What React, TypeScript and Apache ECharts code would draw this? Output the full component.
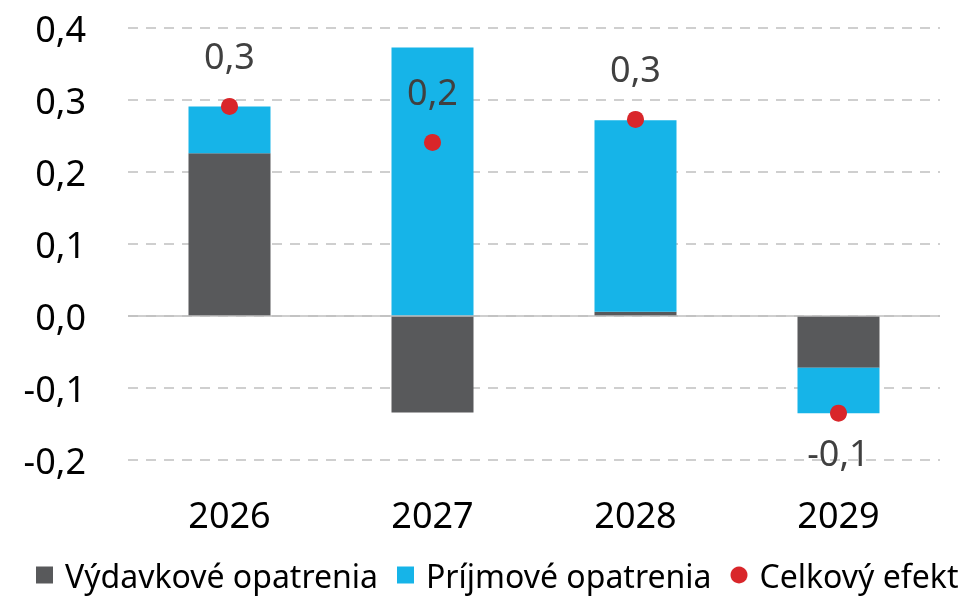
import React, { useEffect, useRef } from "react";
import * as echarts from "echarts";

const categories = ["2026", "2027", "2028", "2029"];
const vydavkove = [0.226, -0.134, 0.006, -0.072];
const prijmove = [0.065, 0.373, 0.266, -0.063];
const celkovy = [0.291, 0.241, 0.273, -0.135];
const labelPositions = ["top", "top", "top", "bottom"];
const yTicks = { min: -0.2, max: 0.4, interval: 0.1 };

const FONT = "Noto Sans";
const fmt = (v: number) => v.toFixed(1).replace(".", ",");

export default function App() {
  const ref = useRef<HTMLDivElement>(null);
  useEffect(() => {
    if (!ref.current) return;
    const chart = echarts.init(ref.current, undefined, { renderer: "svg" });
    chart.setOption({
      animation: false,
      textStyle: { fontFamily: FONT },
      grid: { left: 128, right: 29, top: 28, bottom: 136 },
      legend: {
        bottom: 5,
        left: 36,
        right: 0,
        padding: 0,
        itemWidth: 17,
        itemHeight: 17,
        itemGap: 19,
        textStyle: {
          fontFamily: FONT,
          fontSize: 32,
          color: "#000",
          padding: [0, 0, 0, 7],
        },
        data: [
          { name: "Výdavkové opatrenia", icon: "rect" },
          { name: "Príjmové opatrenia", icon: "rect" },
          { name: "Celkový efekt", icon: "circle" },
        ],
      },
      xAxis: {
        type: "category",
        data: categories,
        axisLine: { show: false, onZero: false },
        axisTick: { show: false },
        axisLabel: { fontSize: 36, color: "#000", margin: 36, fontFamily: FONT },
      },
      yAxis: {
        type: "value",
        min: yTicks.min,
        max: yTicks.max,
        interval: yTicks.interval,
        axisLine: { show: false },
        axisTick: { show: false },
        axisLabel: {
          fontSize: 36,
          color: "#000",
          margin: 42,
          fontFamily: FONT,
          formatter: (v: number) => fmt(v),
        },
        splitLine: {
          lineStyle: { color: "#c0c0c0", width: 1.5, type: [10, 8] },
        },
      },
      series: [
        {
          name: "Výdavkové opatrenia",
          type: "bar",
          stack: "s",
          barWidth: 82,
          itemStyle: { color: "#58595b" },
          data: vydavkove,
          markLine: {
            silent: true,
            symbol: "none",
            label: { show: false },
            lineStyle: { color: "#bfbfbf", width: 1.5, type: "solid" },
            data: [{ yAxis: 0 }],
          },
        },
        {
          name: "Príjmové opatrenia",
          type: "bar",
          stack: "s",
          barWidth: 82,
          itemStyle: { color: "#16b4e8" },
          data: prijmove,
        },
        {
          name: "Celkový efekt",
          type: "scatter",
          symbol: "circle",
          symbolSize: 17,
          itemStyle: { color: "#d9262a", opacity: 1 },
          z: 5,
          data: celkovy.map((v, i) => ({
            value: v,
            label: {
              show: true,
              position: labelPositions[i],
              distance: labelPositions[i] === "top" ? 24 : 13,
              fontSize: 36,
              color: "#404040",
              fontFamily: FONT,
              formatter: () => fmt(v),
            },
          })),
        },
      ],
    });
    return () => chart.dispose();
  }, []);
  return (
    <div
      ref={ref}
      style={{ position: "fixed", left: 0, top: 0, width: 969, height: 596 }}
    />
  );
}
